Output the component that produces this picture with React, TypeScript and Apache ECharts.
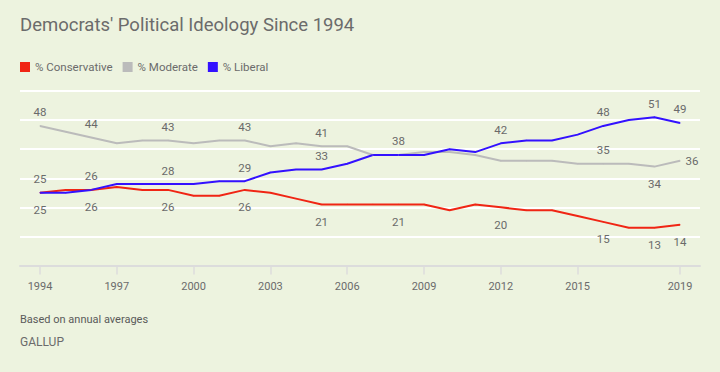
import React, { useEffect, useRef } from "react";
import * as echarts from "echarts";

const years = [1994, 1995, 1996, 1997, 1998, 1999, 2000, 2001, 2002, 2003, 2004, 2005, 2006, 2007, 2008, 2009, 2010, 2011, 2012, 2013, 2014, 2015, 2016, 2017, 2018, 2019];
const conservative = [25, 26, 26, 27, 26, 26, 24, 24, 26, 25, 23, 21, 21, 21, 21, 21, 19, 21, 20, 19, 19, 17, 15, 13, 13, 14];
const moderate = [48, 46, 44, 42, 43, 43, 42, 43, 43, 41, 42, 41, 41, 38, 38, 39, 39, 38, 36, 36, 36, 35, 35, 35, 34, 36];
const liberal = [25, 25, 26, 28, 28, 28, 28, 29, 29, 32, 33, 33, 35, 38, 38, 38, 40, 39, 42, 43, 43, 45, 48, 50, 51, 49];
const tickYears = [1994, 1997, 2000, 2003, 2006, 2009, 2012, 2015, 2019];

const conservativeLabelYears = [1994, 1996, 1999, 2002, 2005, 2008, 2012, 2016, 2018, 2019];
const moderateLabelYears = [1994, 1996, 1999, 2002, 2005, 2016, 2018, 2019];
const liberalLabelYears = [1994, 1996, 1999, 2002, 2005, 2008, 2012, 2016, 2018, 2019];
const moderateBelowYears = [2018];
const moderateRightYears = [2019];

const FONT = "Roboto, 'Noto Sans', sans-serif";
const LABEL_COLOR = "#6a6a6a";

function buildData(values: number[], labelYears: number[], defaultPos: string, below: number[] = [], right: number[] = []) {
  return years.map((y, i) => {
    const show = labelYears.includes(y);
    let pos = defaultPos;
    let dist = defaultPos === "top" ? 7 : 11;
    if (below.includes(y)) { pos = "bottom"; dist = 11; }
    if (right.includes(y)) { pos = "right"; dist = 5; }
    return {
      value: [y, values[i]],
      label: { show, position: pos, distance: dist },
    };
  });
}

export default function App() {
  const ref = useRef<HTMLDivElement>(null);
  useEffect(() => {
    if (!ref.current) return;
    const chart = echarts.init(ref.current, undefined, { renderer: "svg" });
    const labelStyle = { color: LABEL_COLOR, fontSize: 11.5, fontFamily: FONT, formatter: (p: any) => String(p.value[1]) };
    const mkSeries = (name: string, color: string, data: any[]) => ({
      name,
      type: "line",
      data,
      symbol: "circle",
      symbolSize: 1,
      showSymbol: true,
      itemStyle: { color },
      lineStyle: { color, width: 2 },
      label: { ...labelStyle },
      emphasis: { disabled: true },
      z: 3,
    });
    chart.setOption({
      animation: false,
      backgroundColor: "#EDF3DF",
      textStyle: { fontFamily: FONT },
      title: {
        text: "Democrats' Political Ideology Since 1994",
        left: 20,
        top: 15,
        padding: 0,
        textStyle: { color: "#6b6b6b", fontSize: 18.5, fontWeight: "normal", fontFamily: FONT },
      },
      legend: {
        left: 20,
        top: 61,
        padding: 0,
        itemWidth: 10,
        itemHeight: 10,
        itemGap: 10,
        icon: "rect",
        selectedMode: false,
        textStyle: { color: "#6b6b6b", fontSize: 11.5, fontFamily: FONT, padding: [0, 0, 0, 0] },
        data: ["% Conservative", "% Moderate", "% Liberal"],
      },
      grid: { left: 20, right: 20, top: 91, bottom: 106.5, containLabel: false },
      xAxis: {
        type: "value",
        min: 1993.21875,
        max: 2019.78125,
        axisLine: { show: true, lineStyle: { color: "#dcdcdc", width: 2 } },
        axisTick: { show: true, customValues: tickYears, length: 9, lineStyle: { color: "#dcdcdc", width: 1.5 } },
        axisLabel: { customValues: tickYears, color: "#6b6b6b", fontSize: 11, fontFamily: FONT, margin: 15, formatter: (v: number) => String(v) },
        splitLine: { show: false },
      },
      yAxis: {
        type: "value",
        min: 0,
        max: 60,
        interval: 10,
        axisLine: { show: false },
        axisTick: { show: false },
        axisLabel: { show: false },
        splitLine: { show: true, lineStyle: { color: "#ffffff", width: 2 } },
      },
      graphic: [
        { type: "text", left: 20, top: 314, style: { text: "Based on annual averages", fill: "#5a5a5a", fontSize: 11, fontFamily: FONT } },
        { type: "text", left: 20, top: 336, style: { text: "GALLUP", fill: "#6b6b6b", fontSize: 12, fontFamily: FONT } },
      ],
      series: [
        mkSeries("% Conservative", "#F02514", buildData(conservative, conservativeLabelYears, "bottom")),
        mkSeries("% Moderate", "#BBBBBB", buildData(moderate, moderateLabelYears, "top", moderateBelowYears, moderateRightYears)),
        mkSeries("% Liberal", "#3311FF", buildData(liberal, liberalLabelYears, "top")),
      ],
    });
    return () => chart.dispose();
  }, []);
  return <div ref={ref} style={{ position: "fixed", left: 0, top: 0, width: 720, height: 372 }} />;
}
